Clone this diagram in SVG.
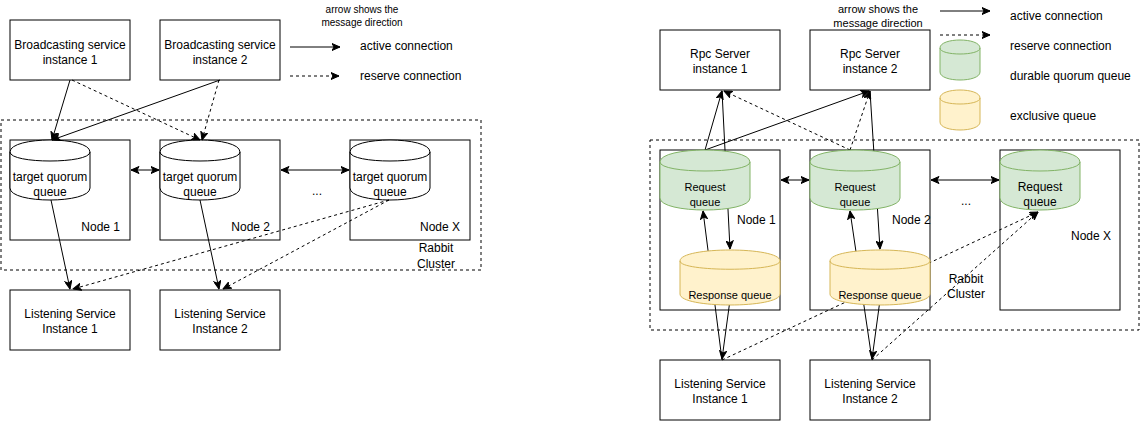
<svg xmlns="http://www.w3.org/2000/svg" width="1141" height="421" viewBox="0 0 1141 421">
<style>
text{font-family:"Liberation Sans",Arial,sans-serif;font-size:12px;fill:#000}
.s10{font-size:10px}.s11{font-size:11px}
.box{fill:#fff;stroke:#000;stroke-width:1}
.cluster{fill:none;stroke:#000;stroke-width:1;stroke-dasharray:3 3}
.cyl{fill:#fff;stroke:#000;stroke-width:1}
.green{fill:#d5e8d4;stroke:#82b366;stroke-width:1}
.yellow{fill:#fff2cc;stroke:#d6b656;stroke-width:1}
.inner{fill:none}
.e{fill:none;stroke:#000;stroke-width:1;marker-end:url(#arr)}
.d{stroke-dasharray:3 3}
.b{marker-start:url(#arr)}
.c{text-anchor:middle}
.r{text-anchor:end}
</style>
<defs>
<marker id="arr" markerUnits="userSpaceOnUse" viewBox="0 0 9 8" refX="8.5" refY="4" markerWidth="9" markerHeight="8" orient="auto-start-reverse">
<path d="M0.5,0.5 L8.5,4 L0.5,7.5 L2.5,4 Z" fill="#000" stroke="#000" stroke-width="1"/>
</marker>
</defs>
<rect width="1141" height="421" fill="#fff"/>

<!-- ============ LEFT DIAGRAM ============ -->
<g id="left-legend">
<text class="s10 c" x="362" y="13">arrow shows the</text>
<text class="s10 c" x="362" y="26">message direction</text>
<line class="e" x1="290" y1="47" x2="340" y2="47"/>
<text x="360" y="50">active connection</text>
<line class="e d" x1="290" y1="76" x2="339" y2="76"/>
<text x="360" y="80">reserve connection</text>
</g>
<g id="left-cluster">
<rect class="cluster" x="1" y="120" width="480" height="150"/>
<text class="c" x="436" y="252">Rabbit</text>
<text class="c" x="436" y="268">Cluster</text>
<text class="c" x="317" y="195">...</text>
</g>
<g id="broadcast1"><rect class="box" x="10" y="20" width="120" height="60"/>
<text class="c" x="70" y="49">Broadcasting service</text><text class="c" x="70" y="64">instance 1</text></g>
<g id="broadcast2"><rect class="box" x="160" y="20" width="120" height="60"/>
<text class="c" x="220" y="49">Broadcasting service</text><text class="c" x="220" y="64">instance 2</text></g>
<g id="l-node1"><rect class="box" x="10" y="140" width="120" height="100"/><text class="r" x="120" y="231">Node 1</text></g>
<g id="l-node2"><rect class="box" x="160" y="140" width="120" height="100"/><text class="r" x="270" y="231">Node 2</text></g>
<g id="l-nodeX"><rect class="box" x="350" y="140" width="120" height="100"/><text class="r" x="460" y="231">Node X</text></g>
<g id="l-listen1"><rect class="box" x="10" y="290" width="120" height="60"/>
<text class="c" x="70" y="318">Listening Service</text><text class="c" x="70" y="333">Instance 1</text></g>
<g id="l-listen2"><rect class="box" x="160" y="290" width="120" height="60"/>
<text class="c" x="220" y="318">Listening Service</text><text class="c" x="220" y="333">Instance 2</text></g>

<g id="l-queue1"><path class="cyl" d="M10,152 C10,136 90,136 90,152 L90,188 C90,204 10,204 10,188 Z"/><path class="cyl inner" d="M10,152 C10,164 90,164 90,152"/>
<text class="c" x="50" y="181">target quorum</text><text class="c" x="50" y="196">queue</text></g>
<g id="l-queue2"><path class="cyl" d="M160,152 C160,136 240,136 240,152 L240,188 C240,204 160,204 160,188 Z"/><path class="cyl inner" d="M160,152 C160,164 240,164 240,152"/>
<text class="c" x="200" y="181">target quorum</text><text class="c" x="200" y="196">queue</text></g>
<g id="l-queueX"><path class="cyl" d="M350,152 C350,136 430,136 430,152 L430,188 C430,204 350,204 350,188 Z"/><path class="cyl inner" d="M350,152 C350,164 430,164 430,152"/>
<text class="c" x="390" y="181">target quorum</text><text class="c" x="390" y="196">queue</text></g>

<g id="left-connectors">
<line class="e" x1="70" y1="80" x2="52" y2="140"/>
<line class="e" x1="220" y1="80" x2="52" y2="140"/>
<line class="e d" x1="72" y1="80" x2="200" y2="140"/>
<line class="e d" x1="219" y1="80" x2="202" y2="140"/>
<line class="e b" x1="131" y1="170" x2="159" y2="170"/>
<line class="e b" x1="281" y1="170" x2="349" y2="170"/>
<line class="e" x1="51" y1="200" x2="70" y2="289"/>
<line class="e" x1="200" y1="200" x2="219" y2="289"/>
<line class="e d" x1="389" y1="200" x2="73" y2="289"/>
<line class="e d" x1="389" y1="200" x2="223" y2="289"/>
</g>

<!-- ============ RIGHT DIAGRAM ============ -->
<g id="right-legend">
<text class="s11 c" x="878" y="13">arrow shows the</text>
<text class="s11 c" x="878" y="27">message direction</text>
<line class="e" x1="940" y1="11" x2="990" y2="11"/>
<text x="1010" y="20">active connection</text>
<line class="e d" x1="940" y1="35" x2="990" y2="35"/>
<text x="1010" y="50">reserve connection</text>
<path class="green" d="M940,48 C940,37.33 980,37.33 980,48 L980,72 C980,82.67 940,82.67 940,72 Z"/>
<path class="green inner" d="M940,48 C940,56 980,56 980,48"/>
<text x="1010" y="80">durable quorum queue</text>
<path class="yellow" d="M940,98 C940,87.33 980,87.33 980,98 L980,122 C980,132.67 940,132.67 940,122 Z"/>
<path class="yellow inner" d="M940,98 C940,106 980,106 980,98"/>
<text x="1010" y="120">exclusive queue</text>
</g>
<g id="right-cluster">
<rect class="cluster" x="650" y="140" width="489" height="190"/>
<text class="c" x="966" y="283">Rabbit</text>
<text class="c" x="966" y="298">Cluster</text>
<text class="c" x="966" y="205">...</text>
</g>
<g id="rpc1"><rect class="box" x="660" y="30" width="120" height="60"/>
<text class="c" x="720" y="58">Rpc Server</text><text class="c" x="720" y="73">instance 1</text></g>
<g id="rpc2"><rect class="box" x="810" y="30" width="120" height="60"/>
<text class="c" x="870" y="58">Rpc Server</text><text class="c" x="870" y="73">instance 2</text></g>
<g id="r-node1"><rect class="box" x="660" y="150" width="120" height="160"/><text x="737" y="224">Node 1</text></g>
<g id="r-node2"><rect class="box" x="810" y="150" width="120" height="160"/><text x="892" y="224">Node 2</text></g>
<g id="r-nodeX"><rect class="box" x="1000" y="150" width="120" height="160"/><text x="1071" y="240">Node X</text></g>
<g id="r-listen1"><rect class="box" x="660" y="360" width="120" height="60"/>
<text class="c" x="720" y="388">Listening Service</text><text class="c" x="720" y="403">Instance 1</text></g>
<g id="r-listen2"><rect class="box" x="810" y="360" width="120" height="60"/>
<text class="c" x="870" y="388">Listening Service</text><text class="c" x="870" y="403">Instance 2</text></g>

<g id="right-connectors">
<line class="e" x1="705" y1="150" x2="722" y2="91"/>
<line class="e" x1="705" y1="150" x2="869" y2="91"/>
<line class="e d" x1="850" y1="150" x2="724" y2="91"/>
<line class="e d" x1="850" y1="150" x2="870" y2="91"/>
<line class="e" x1="722" y1="91" x2="730" y2="249"/>
<line class="e" x1="870" y1="91" x2="880" y2="249"/>
<line class="e" x1="722" y1="360" x2="703" y2="211"/>
<line class="e" x1="730" y1="300" x2="722" y2="359"/>
<line class="e" x1="872" y1="360" x2="850" y2="211"/>
<line class="e" x1="880" y1="300" x2="872" y2="359"/>
<line class="e d" x1="722" y1="360" x2="1038" y2="212"/>
<line class="e d" x1="872" y1="360" x2="1038" y2="212"/>
<line class="e b" x1="781" y1="180" x2="809" y2="180"/>
<line class="e b" x1="931" y1="180" x2="999" y2="180"/>
</g>

<g id="r-request1"><path class="green" d="M660,162 C660,146 750,146 750,162 L750,198 C750,214 660,214 660,198 Z"/><path class="green inner" d="M660,162 C660,174 750,174 750,162"/>
<text class="s11 c" x="705" y="191">Request</text><text class="s11 c" x="705" y="206">queue</text></g>
<g id="r-request2"><path class="green" d="M810,162 C810,146 900,146 900,162 L900,198 C900,214 810,214 810,198 Z"/><path class="green inner" d="M810,162 C810,174 900,174 900,162"/>
<text class="s11 c" x="855" y="191">Request</text><text class="s11 c" x="855" y="206">queue</text></g>
<g id="r-requestX"><path class="green" d="M1000,162 C1000,146 1080,146 1080,162 L1080,198 C1080,214 1000,214 1000,198 Z"/><path class="green inner" d="M1000,162 C1000,174 1080,174 1080,162"/>
<text class="c" x="1040" y="191">Request</text><text class="c" x="1040" y="206">queue</text></g>
<g id="r-response1"><path class="yellow" d="M680,261 C680,246.33 780,246.33 780,261 L780,294 C780,308.67 680,308.67 680,294 Z"/><path class="yellow inner" d="M680,261 C680,272 780,272 780,261"/>
<text class="s11 c" x="730" y="299">Response queue</text></g>
<g id="r-response2"><path class="yellow" d="M830,261 C830,246.33 930,246.33 930,261 L930,294 C930,308.67 830,308.67 830,294 Z"/><path class="yellow inner" d="M830,261 C830,272 930,272 930,261"/>
<text class="s11 c" x="880" y="299">Response queue</text></g>
</svg>
